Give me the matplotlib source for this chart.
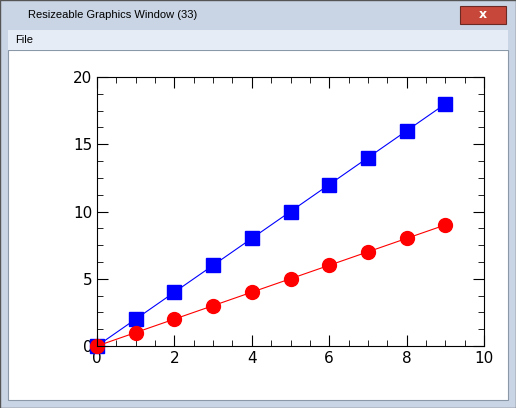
import numpy as np
import matplotlib.pyplot as plt
from matplotlib.patches import Rectangle
from matplotlib.ticker import MultipleLocator

x_values = [0, 1, 2, 3, 4, 5, 6, 7, 8, 9]
blue_values = [0, 2, 4, 6, 8, 10, 12, 14, 16, 18]
red_values = [0, 1, 2, 3, 4, 5, 6, 7, 8, 9]

W, H = 516, 408
fig = plt.figure(figsize=(W / 100, H / 100), dpi=100)
fig.patch.set_facecolor("white")

# window chrome (drawn behind the axes)
fig.add_artist(Rectangle((0, 0), 1, 1, transform=fig.transFigure,
                         facecolor="#c9d5e4", edgecolor="#555555", lw=1, zorder=-3))
fig.add_artist(Rectangle((8 / W, 8 / H), (W - 16) / W, (H - 58) / H,
                         transform=fig.transFigure, facecolor="white", edgecolor="#8a98a8",
                         lw=0.8, zorder=-2))
fig.add_artist(Rectangle((8 / W, (H - 50) / H), (W - 16) / W, 20 / H,
                         transform=fig.transFigure, facecolor="#e6ecf6", edgecolor="none",
                         zorder=-2))
fig.text(28 / W, (H - 15) / H, "Resizeable Graphics Window (33)", fontsize=8,
         va="center", ha="left", family="Liberation Sans")
fig.text(15 / W, (H - 40) / H, "File", fontsize=8, va="center", family="Liberation Sans")
fig.add_artist(Rectangle((460 / W, (H - 24) / H), 46 / W, 18 / H,
                         transform=fig.transFigure, facecolor="#c7473a", edgecolor="#6b2a24",
                         lw=0.8, zorder=-1))
fig.text(483 / W, (H - 15) / H, "x", color="white", fontsize=9, weight="bold",
         ha="center", va="center")

ax = fig.add_axes([97 / W, (H - 346) / H, 387 / W, 269 / H])
ax.set_zorder(5)
ax.set_facecolor("white")
ax.plot(x_values, blue_values, color="blue", lw=0.8, marker="s", markersize=10, clip_on=False)
ax.plot(x_values, red_values, color="red", lw=0.8, marker="o", markersize=10, clip_on=False)
ax.set_xlim(0, 10)
ax.set_ylim(0, 20)
ax.xaxis.set_major_locator(MultipleLocator(2))
ax.xaxis.set_minor_locator(MultipleLocator(0.5))
ax.yaxis.set_major_locator(MultipleLocator(5))
ax.yaxis.set_minor_locator(MultipleLocator(1.25))
ax.tick_params(which="both", direction="in", top=True, right=True, labelsize=11)
ax.tick_params(which="major", length=8)
ax.tick_params(which="minor", length=4)
for s in ax.spines.values():
    s.set_linewidth(0.8)

fig.savefig("out.png", dpi=100)
